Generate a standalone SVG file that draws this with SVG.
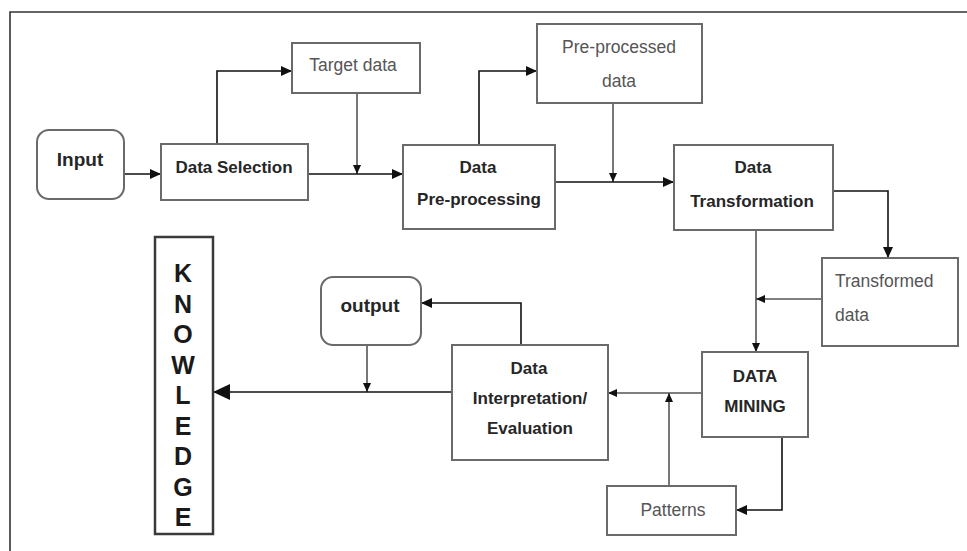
<svg xmlns="http://www.w3.org/2000/svg" width="967" height="551" viewBox="0 0 967 551">
<style>
.box{fill:#fff;stroke:#6a6a6a;stroke-width:2}
.kbox{fill:#fff;stroke:#3a3a3a;stroke-width:2.5}
.b{font-family:"Liberation Sans",Arial,sans-serif;font-weight:bold;font-size:17px;fill:#262626;text-anchor:middle}
.r{font-family:"Liberation Sans",Arial,sans-serif;font-size:17.5px;fill:#555;text-anchor:middle}
.k{font-family:"Liberation Sans",Arial,sans-serif;font-weight:bold;font-size:25px;fill:#1a1a1a;text-anchor:middle}
.c{fill:none;stroke:#111;stroke-width:1.6}
.cg{fill:none;stroke:#555;stroke-width:1.6}
</style>
<defs>
<marker id="ah" markerUnits="userSpaceOnUse" markerWidth="12" markerHeight="12" refX="11" refY="6" orient="auto">
<path d="M0,1 L11,6 L0,11 Z" fill="#111"/>
</marker>
<marker id="ahs" markerUnits="userSpaceOnUse" markerWidth="10" markerHeight="10" refX="9" refY="5" orient="auto">
<path d="M0,1 L9,5 L0,9 Z" fill="#111"/>
</marker>
<marker id="ahb" markerUnits="userSpaceOnUse" markerWidth="18" markerHeight="18" refX="17" refY="9" orient="auto">
<path d="M0,1 L17,9 L0,17 Z" fill="#111"/>
</marker>
</defs>
<rect width="967" height="551" fill="#fff"/>
<path d="M10,551 V12 H967" fill="none" stroke="#333" stroke-width="1.6"/>

<g id="connectors">
<path class="c" d="M124,174 H161" marker-end="url(#ah)"/>
<path class="c" d="M217,144 V71 H292" marker-end="url(#ah)"/>
<path class="cg" d="M357,93 V174" marker-end="url(#ahs)"/>
<path class="c" d="M308,174 H403" marker-end="url(#ah)"/>
<path class="c" d="M479,144 V71 H537" marker-end="url(#ah)"/>
<path class="cg" d="M613,103 V182" marker-end="url(#ahs)"/>
<path class="c" d="M555,182 H674" marker-end="url(#ah)"/>
<path class="c" d="M833,191 H888 V258" marker-end="url(#ah)"/>
<path class="cg" d="M756,230 V352" marker-end="url(#ahs)"/>
<path class="cg" d="M822,299 H756" marker-end="url(#ahs)"/>
<path class="cg" d="M702,393 H608" marker-end="url(#ahs)"/>
<path class="c" d="M782,437 V510 H736" marker-end="url(#ah)"/>
<path class="cg" d="M669,486 V393" marker-end="url(#ahs)"/>
<path class="c" d="M521,345 V303 H421" marker-end="url(#ah)"/>
<path class="cg" d="M367,345 V392" marker-end="url(#ahs)"/>
<path class="c" d="M452,392 H213" marker-end="url(#ahb)"/>
</g>

<g id="input">
<rect class="box" x="37" y="130" width="87" height="69" rx="12"/>
<text class="b" x="80" y="166" style="font-size:19px">Input</text>
</g>
<g id="data-selection">
<rect class="box" x="161" y="144" width="147" height="56"/>
<text class="b" x="234" y="173">Data Selection</text>
</g>
<g id="target-data">
<rect class="box" x="292" y="43" width="128" height="50"/>
<text class="r" x="353" y="71">Target data</text>
</g>
<g id="data-preprocessing">
<rect class="box" x="403" y="145" width="152" height="84"/>
<text class="b" x="478" y="173">Data</text>
<text class="b" x="479" y="205">Pre-processing</text>
</g>
<g id="preprocessed-data">
<rect class="box" x="537" y="24" width="165" height="79"/>
<text class="r" x="619" y="53">Pre-processed</text>
<text class="r" x="619" y="87">data</text>
</g>
<g id="data-transformation">
<rect class="box" x="674" y="145" width="159" height="85"/>
<text class="b" x="753" y="173">Data</text>
<text class="b" x="752" y="207">Transformation</text>
</g>
<g id="transformed-data">
<rect class="box" x="822" y="258" width="136" height="88"/>
<text class="r" x="835" y="287" style="text-anchor:start">Transformed</text>
<text class="r" x="835" y="321" style="text-anchor:start">data</text>
</g>
<g id="data-mining">
<rect class="box" x="702" y="352" width="106" height="85"/>
<text class="b" x="755" y="382">DATA</text>
<text class="b" x="755" y="412">MINING</text>
</g>
<g id="patterns">
<rect class="box" x="607" y="486" width="129" height="49"/>
<text class="r" x="673" y="516">Patterns</text>
</g>
<g id="data-interpretation">
<rect class="box" x="452" y="345" width="156" height="115"/>
<text class="b" x="529" y="374">Data</text>
<text class="b" x="530" y="404">Interpretation/</text>
<text class="b" x="530" y="434">Evaluation</text>
</g>
<g id="output">
<rect class="box" x="321" y="277" width="100" height="68" rx="12"/>
<text class="b" x="370" y="312" style="font-size:19px">output</text>
</g>
<g id="knowledge">
<rect class="kbox" x="155" y="237" width="58" height="297"/>
<text class="k" x="183" y="282">K</text>
<text class="k" x="183" y="312.5">N</text>
<text class="k" x="183" y="343">O</text>
<text class="k" x="183" y="373.5">W</text>
<text class="k" x="183" y="404">L</text>
<text class="k" x="183" y="434.5">E</text>
<text class="k" x="183" y="465">D</text>
<text class="k" x="183" y="495.5">G</text>
<text class="k" x="183" y="526">E</text>
</g>
</svg>
